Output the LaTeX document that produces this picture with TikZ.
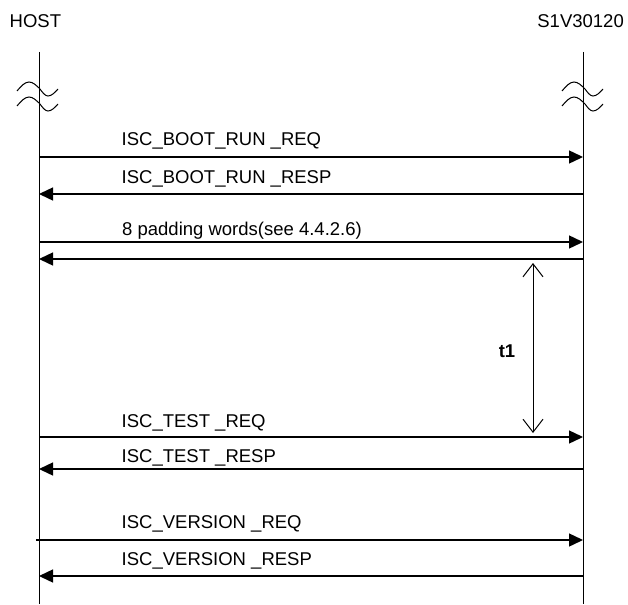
\documentclass[tikz,border=0pt]{standalone}
\usepackage{fontspec}
\setmainfont{Liberation Sans}
\usetikzlibrary{arrows.meta}
\begin{document}
\begin{tikzpicture}[x=1pt,y=-1pt,
  lifeline/.style={line width=1pt},
  msg/.style={line width=1.4pt,-{Triangle[length=14pt,width=13pt]}},
  lbl/.style={anchor=base west,inner sep=0pt,font=\fontsize{18.5}{22}\selectfont},
  hdr/.style={inner sep=0pt,font=\fontsize{18.5}{22}\selectfont},
  brk/.style={line width=1pt},
  span/.style={line width=1pt,{Straight Barb[length=13pt,width=20pt]}-{Straight Barb[length=13pt,width=20pt]}}]
\useasboundingbox (0,0) rectangle (628,604);
% headers
\node[hdr,anchor=base west] (host) at (9.5,28) {HOST};
\node[hdr,anchor=base east] (dev) at (624,28) {S1V30120};
% lifelines
\coordinate (htop) at (39,52);
\coordinate (hbot) at (39,604);
\coordinate (stop) at (583,52);
\coordinate (sbot) at (583,604);
\draw[lifeline] (htop) -- (hbot);
\draw[lifeline] (stop) -- (sbot);
% break marks
\foreach \cx in {38,583}{
  \foreach \cy in {89,104}{
    \draw[brk] (\cx-21,\cy+2) sin (\cx-9,\cy-7) cos (\cx+2,\cy) sin (\cx+10,\cy+7) cos (\cx+20,\cy);
  }
}
% message endpoints
\foreach \n/\y in {1/157,2/194,3/242,4/259,5/437,6/469,7/540,8/576}{
  \coordinate (h\n) at (39,\y);
  \coordinate (s\n) at (583,\y);
}
\coordinate (h7) at (36,540);
% messages
\draw[msg] (h1) -- (s1);
\draw[msg] (s2) -- (h2);
\draw[msg] (h3) -- (s3);
\draw[msg] (s4) -- (h4);
\draw[msg] (h5) -- (s5);
\draw[msg] (s6) -- (h6);
\draw[msg] (h7) -- (s7);
\draw[msg] (s8) -- (h8);
% labels
\node[lbl] (l1) at (121.5,146) {ISC\_BOOT\_RUN \_REQ};
\node[lbl] (l2) at (121.5,183) {ISC\_BOOT\_RUN \_RESP};
\node[lbl] (l3) at (122,235) {8 padding words(see 4.4.2.6)};
\node[lbl] (l5) at (121.5,427) {ISC\_TEST \_REQ};
\node[lbl] (l6) at (121.5,462) {ISC\_TEST \_RESP};
\node[lbl] (l7) at (121.5,528) {ISC\_VERSION \_REQ};
\node[lbl] (l8) at (121.5,565) {ISC\_VERSION \_RESP};
% t1 interval
\coordinate (ta) at (533,263);
\coordinate (tb) at (533,433);
\draw[span] (ta) -- (tb);
\node[hdr,font=\fontsize{18.5}{22}\selectfont\bfseries] (t1) at (507,351) {t1};
\end{tikzpicture}
\end{document}
